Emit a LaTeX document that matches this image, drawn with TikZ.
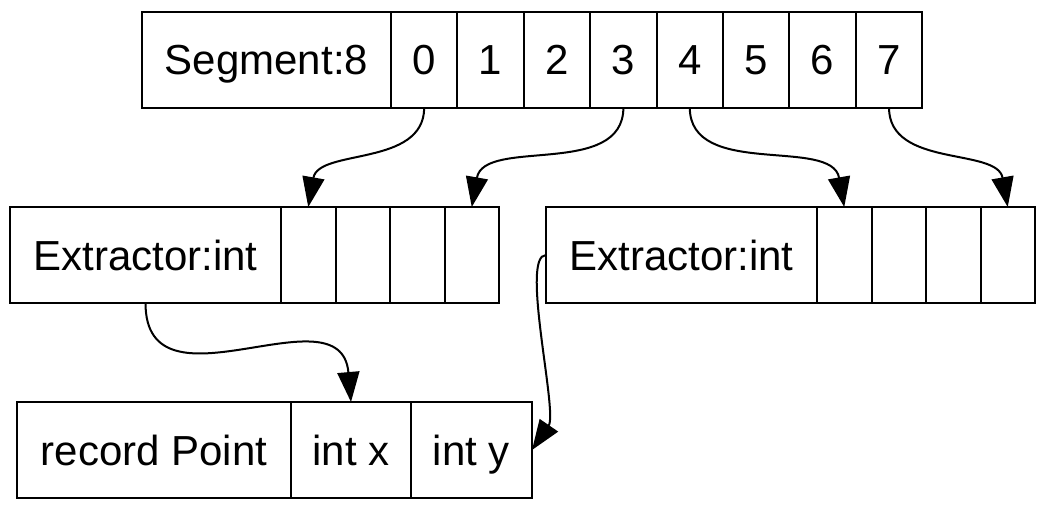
\documentclass[tikz,border=0pt]{standalone}
\usepackage{fontspec}
\setmainfont{Liberation Sans}
\usepackage{tikz}
\usetikzlibrary{arrows.meta,positioning}

\begin{document}
\begin{tikzpicture}[node distance=0pt,>={Triangle[length=15pt,width=11pt]}]
  \tikzstyle{field}=[rectangle,draw,line width=1pt,minimum height=48pt,
                     inner sep=0pt,outer sep=0pt,text height=15pt,text depth=0pt,
                     font=\fontsize{21}{25}\selectfont]
  \tikzstyle{seg cell}=[field,minimum width=33.2pt]
  \tikzstyle{slot}=[field,minimum width=27.25pt]
  \tikzstyle{link}=[->,line width=1pt]

  \useasboundingbox (0,0) rectangle (523pt,-255pt);

  % the segment and its eight entries
  \node [field,minimum width=124.5pt] (seg) at (133.25pt,-29.75pt) {Segment:8};
  \node [seg cell] (s0) [right=of seg] {0};
  \node [seg cell] (s1) [right=of s0] {1};
  \node [seg cell] (s2) [right=of s1] {2};
  \node [seg cell] (s3) [right=of s2] {3};
  \node [seg cell] (s4) [right=of s3] {4};
  \node [seg cell] (s5) [right=of s4] {5};
  \node [seg cell] (s6) [right=of s5] {6};
  \node [seg cell] (s7) [right=of s6] {7};

  % the two extractors
  \node [field,minimum width=135.5pt] (lext) at (72.75pt,-127.5pt) {Extractor:int};
  \node [slot] (l1) [right=of lext] {};
  \node [slot] (l2) [right=of l1] {};
  \node [slot] (l3) [right=of l2] {};
  \node [slot] (l4) [right=of l3] {};

  \node [field,minimum width=135.5pt] (rext) at (340.75pt,-127.5pt) {Extractor:int};
  \node [slot] (r1) [right=of rext] {};
  \node [slot] (r2) [right=of r1] {};
  \node [slot] (r3) [right=of r2] {};
  \node [slot] (r4) [right=of r3] {};

  % the record
  \node [field,minimum width=137pt] (rec) at (77pt,-225pt) {record Point};
  \node [field,minimum width=60pt] (px) [right=of rec] {int x};
  \node [field,minimum width=60.5pt] (py) [right=of px] {int y};

  \draw [link] (s0.south) to [out=-90,in=80] (l1.north);
  \draw [link] (s3.south) to [out=-90,in=80] (l4.north);
  \draw [link] (s4.south) to [out=-90,in=100] (r1.north);
  \draw [link] (s7.south) to [out=-90,in=100] (r4.north);
  \draw [link] (lext.south) to [out=-90,in=95,looseness=1.3] (px.north);
  \draw [link] (rext.west) .. controls +(-13pt,0) and +(13pt,19pt) .. (py.east);
\end{tikzpicture}
\end{document}
